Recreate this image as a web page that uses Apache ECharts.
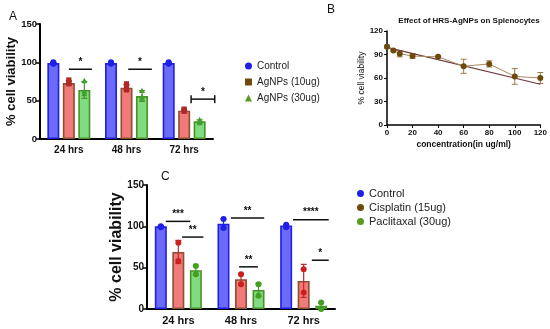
<!DOCTYPE html>
<html><head><meta charset="utf-8">
<script src="https://cdn.jsdelivr.net/npm/echarts@6/dist/echarts.min.js"></script>
<style>html,body{margin:0;padding:0;background:#fff}#c{width:550px;height:329px}</style>
</head><body><div id="c"></div>
<script>
// ---------- data ----------
const categories = ['24 hrs', '48 hrs', '72 hrs'];
// Panel A
const aControl = [99, 99, 99];
const aAg10 = [73, 67, 37];
const aAg30 = [64, 56, 23];
const aErrControl = [1, 1, 1];
const aErrAg10 = [3, 4, 1];
const aErrAg30 = [11, 7, 2];
const aPtsControl = [[0, 98], [0, 99], [0, 100], [1, 98], [1, 99], [1, 100], [2, 98], [2, 99], [2, 100]];
const aPtsAg10 = [[0, 72], [0, 74], [0, 77], [1, 64], [1, 67], [1, 72], [2, 36], [2, 38], [2, 39]];
const aPtsAg30 = [[0, 59], [0, 62], [0, 76], [1, 53], [1, 55], [1, 63], [2, 21], [2, 23], [2, 25]];
const aSig = [[0, 0.0, 0.40, 91, '*', 0], [1, 0.03, 0.44, 91, '*', 0], [2, 0.12, 0.53, 52, '*', 1]];
// Panel B
const bConc = [0, 5, 10, 20, 40, 60, 80, 100, 120];
const bViab = [100, 95, 91, 88, 87, 75, 78, 62, 60];
const bErr = [2, 1, 4, 3, 1, 9, 4, 10, 7];
const bTrendX = [0, 120];
const bTrendY = [99, 52];
// Panel C
const cControl = [100, 103, 101];
const cCis = [69, 36, 34];
const cPac = [47, 23, 4];
const cErrControl = [1, 6, 1];
const cErrCis = [14, 7, 20];
const cErrPac = [6, 8, 4];
const cPtsControl = [[0, 99], [0, 100], [1, 98], [1, 109], [2, 99], [2, 102]];
const cPtsCis = [[0, 58], [0, 80], [1, 30], [1, 42], [2, 20], [2, 48]];
const cPtsPac = [[0, 42], [0, 52], [1, 16], [1, 30], [2, 0], [2, 8]];
const cSig = [[0, -0.2, 0.19, 106, '***'], [0, 0.06, 0.40, 87, '**'], [1, -0.16, 0.37, 110, '**'], [1, -0.03, 0.27, 51, '**'], [2, -0.17, 0.40, 108, '****'], [2, 0.13, 0.40, 59, '*']];

// ---------- styles ----------
const FONT = 'Liberation Sans, Arial, sans-serif';
const BLUE_F = '#6b6bf7', BLUE_B = '#1f1fe6';
const RED_F = '#f27a7a', RED_B = '#8a5030';
const GRN_F = '#80dc80', GRN_B = '#4a9226';
const BROWN = '#6e4a0c';

const chart = echarts.init(document.getElementById('c'), null, {renderer: 'canvas'});

function errSeries(grid, data, errs, offset, color, capW) {
  return {
    type: 'custom', xAxisIndex: grid, yAxisIndex: grid, z: 5,
    data: data.map((v, i) => [i, v, errs[i]]),
    renderItem: function (params, api) {
      const x = api.coord([api.value(0), 0])[0] + offset;
      const hi = api.coord([api.value(0), api.value(1) + api.value(2)])[1];
      const lo = api.coord([api.value(0), api.value(1) - api.value(2)])[1];
      const st = {stroke: color, lineWidth: 1.2};
      return {type: 'group', children: [
        {type: 'line', shape: {x1: x, y1: hi, x2: x, y2: lo}, style: st},
        {type: 'line', shape: {x1: x - capW, y1: hi, x2: x + capW, y2: hi}, style: st},
        {type: 'line', shape: {x1: x - capW, y1: lo, x2: x + capW, y2: lo}, style: st}
      ]};
    }
  };
}
function ptSeries(grid, pts, offset, color, shape, r) {
  return {
    type: 'custom', xAxisIndex: grid, yAxisIndex: grid, z: 6,
    data: pts,
    renderItem: function (params, api) {
      const p = api.coord([api.value(0), api.value(1)]);
      const x = p[0] + offset, y = p[1];
      if (shape === 'rect') return {type: 'rect', shape: {x: x - r, y: y - r, width: 2 * r, height: 2 * r}, style: {fill: color}};
      if (shape === 'tri') return {type: 'polygon', shape: {points: [[x, y - r], [x - r, y + r * 0.8], [x + r, y + r * 0.8]]}, style: {fill: color}};
      return {type: 'circle', shape: {cx: x, cy: y, r: r}, style: {fill: color}};
    }
  };
}
function sigSeries(grid, sig, fs) {
  return {
    type: 'custom', xAxisIndex: grid, yAxisIndex: grid, z: 7,
    data: sig.map(s => [s[0], s[1], s[2], s[3], s[5] || 0]),
    renderItem: function (params, api) {
      const c = api.coord([api.value(0), api.value(3)]);
      const band = api.size([1, 0])[0];
      const x1 = c[0] + api.value(1) * band, x2 = c[0] + api.value(2) * band, y = c[1];
      const st = {stroke: '#111', lineWidth: 1.5};
      const ch = [{type: 'line', shape: {x1: x1, y1: y, x2: x2, y2: y}, style: st}];
      if (api.value(4)) {
        ch.push({type: 'line', shape: {x1: x1, y1: y - 4, x2: x1, y2: y + 4}, style: st});
        ch.push({type: 'line', shape: {x1: x2, y1: y - 4, x2: x2, y2: y + 4}, style: st});
      }
      ch.push({type: 'text', style: {text: sig[params.dataIndex][4], x: (x1 + x2) / 2, y: y - 2, textAlign: 'center', textVerticalAlign: 'bottom', fontSize: fs, fontWeight: 'bold', fill: '#111', fontFamily: FONT}});
      return {type: 'group', children: ch};
    }
  };
}
function barSeries(grid, name, data, fill, border, bw, gap) {
  return {type: 'bar', name: name, xAxisIndex: grid, yAxisIndex: grid, data: data, barWidth: bw, barGap: gap,
    itemStyle: {color: fill, borderColor: border, borderWidth: 1.6}, z: 3};
}

const catAxis = (grid, fs) => ({
  type: 'category', gridIndex: grid, data: categories,
  axisLine: {lineStyle: {color: '#000', width: 2}},
  axisTick: {alignWithLabel: true, length: 4, lineStyle: {color: '#000', width: 1.5}},
  axisLabel: {color: '#111', fontWeight: 'bold', fontSize: fs, fontFamily: FONT, margin: 6}
});
const valAxis = (grid, name, nfs, gap, lfs) => ({
  type: 'value', gridIndex: grid, min: 0, max: 150, interval: 50,
  name: name, nameLocation: 'middle', nameGap: gap, nameMoveOverlap: false,
  nameTextStyle: {color: '#111', fontWeight: 'bold', fontSize: nfs, fontFamily: FONT},
  axisLine: {show: true, lineStyle: {color: '#000', width: 2}},
  axisTick: {show: true, length: 4, lineStyle: {color: '#000', width: 1.5}},
  axisLabel: {color: '#111', fontWeight: 'bold', fontSize: lfs, fontFamily: FONT, margin: 3},
  splitLine: {show: false}
});

const option = {
  animation: false,
  textStyle: {fontFamily: FONT},
  title: [{text: 'Effect of HRS-AgNPs on Splenocytes', left: 464, top: 12, textAlign: 'center',
    textStyle: {fontSize: 8, fontWeight: 'bold', color: '#111', fontFamily: FONT}}],
  graphic: [
    {type: 'text', left: 9, top: 11, style: {text: 'A', fontSize: 12, fill: '#111', fontFamily: FONT}},
    {type: 'text', left: 327, top: 4, style: {text: 'B', fontSize: 12, fill: '#111', fontFamily: FONT}},
    {type: 'text', left: 161, top: 171, style: {text: 'C', fontSize: 12, fill: '#111', fontFamily: FONT}}
  ],
  legend: [
    {orient: 'vertical', left: 240, top: 56, itemWidth: 7, itemHeight: 7, itemGap: 6,
      textStyle: {fontSize: 10, color: '#222', fontFamily: FONT},
      data: [
        {name: 'Control', icon: 'circle', itemStyle: {color: BLUE_B, borderWidth: 0}},
        {name: 'AgNPs (10ug)', icon: 'rect', itemStyle: {color: BROWN, borderWidth: 0}},
        {name: 'AgNPs (30ug)', icon: 'triangle', itemStyle: {color: '#5a9a20', borderWidth: 0}}
      ]},
    {orient: 'vertical', left: 352, top: 183, itemWidth: 7, itemHeight: 7, itemGap: 3,
      textStyle: {fontSize: 11, color: '#222', fontFamily: FONT},
      data: [
        {name: 'Control', icon: 'circle', itemStyle: {color: BLUE_B, borderWidth: 0}},
        {name: 'Cisplatin (15ug)', icon: 'circle', itemStyle: {color: BROWN, borderWidth: 0}},
        {name: 'Paclitaxal (30ug)', icon: 'circle', itemStyle: {color: '#5a9a20', borderWidth: 0}}
      ]}
  ],
  grid: [
    {left: 40, top: 24, width: 173, height: 115},
    {left: 387, top: 31, width: 154, height: 94},
    {left: 147, top: 185, width: 188, height: 124}
  ],
  xAxis: [
    catAxis(0, 10),
    {type: 'value', gridIndex: 1, min: 0, max: 120, interval: 20,
      name: 'concentration(in ug/ml)', nameLocation: 'middle', nameGap: 15,
      nameTextStyle: {color: '#111', fontWeight: 'bold', fontSize: 8.5, fontFamily: FONT},
      axisLine: {lineStyle: {color: '#000', width: 1.5}},
      axisTick: {length: 3, lineStyle: {color: '#000'}},
      axisLabel: {color: '#111', fontWeight: 'bold', fontSize: 8, fontFamily: FONT, margin: 4},
      splitLine: {show: false}},
    catAxis(2, 11)
  ],
  yAxis: [
    valAxis(0, '% cell viability', 13, 22, 9.5),
    {type: 'value', gridIndex: 1, min: 0, max: 120, interval: 30,
      name: '% cell viability', nameLocation: 'middle', nameGap: 19,
      nameTextStyle: {color: '#111', fontSize: 8.5, fontFamily: FONT},
      axisLine: {show: true, lineStyle: {color: '#000', width: 1.5}},
      axisTick: {show: true, length: 3, lineStyle: {color: '#000'}},
      axisLabel: {color: '#111', fontWeight: 'bold', fontSize: 8, fontFamily: FONT, margin: 4},
      splitLine: {show: false}},
    valAxis(2, '% cell viability', 16, 22, 10)
  ],
  series: [
    barSeries(0, 'Control', aControl, BLUE_F, BLUE_B, 12, '29%'),
    barSeries(0, 'AgNPs (10ug)', aAg10, RED_F, RED_B, 12, '29%'),
    barSeries(0, 'AgNPs (30ug)', aAg30, GRN_F, GRN_B, 12, '29%'),
    errSeries(0, aControl, aErrControl, -15.5, BLUE_B, 3),
    errSeries(0, aAg10, aErrAg10, 0, '#a03020', 3),
    errSeries(0, aAg30, aErrAg30, 15.5, GRN_B, 3),
    ptSeries(0, aPtsControl, -15.5, BLUE_B, 'circle', 3),
    ptSeries(0, aPtsAg10, 0, '#b02828', 'rect', 2.6),
    ptSeries(0, aPtsAg30, 15.5, '#40a030', 'tri', 3),
    sigSeries(0, aSig, 10),

    {type: 'line', name: 'trend', xAxisIndex: 1, yAxisIndex: 1, data: bTrendX.map((x, i) => [x, bTrendY[i]]),
      symbol: 'none', lineStyle: {color: '#6a3a40', width: 1.2}, z: 3},
    {type: 'line', name: 'viability', xAxisIndex: 1, yAxisIndex: 1, data: bConc.map((x, i) => [x, bViab[i]]),
      symbol: 'circle', symbolSize: 6, itemStyle: {color: BROWN}, lineStyle: {color: '#a88a60', width: 1}, z: 4},
    {type: 'custom', xAxisIndex: 1, yAxisIndex: 1, z: 3,
      data: bConc.map((x, i) => [x, bViab[i], bErr[i]]),
      renderItem: function (params, api) {
        const x = api.coord([api.value(0), 0])[0];
        const hi = api.coord([0, api.value(1) + api.value(2)])[1];
        const lo = api.coord([0, api.value(1) - api.value(2)])[1];
        const st = {stroke: '#9a7a50', lineWidth: 1};
        return {type: 'group', children: [
          {type: 'line', shape: {x1: x, y1: hi, x2: x, y2: lo}, style: st},
          {type: 'line', shape: {x1: x - 3, y1: hi, x2: x + 3, y2: hi}, style: st},
          {type: 'line', shape: {x1: x - 3, y1: lo, x2: x + 3, y2: lo}, style: st}
        ]};
      }},

    barSeries(2, 'Control', cControl, BLUE_F, BLUE_B, 12, '46%'),
    barSeries(2, 'Cisplatin (15ug)', cCis, RED_F, RED_B, 12, '46%'),
    barSeries(2, 'Paclitaxal (30ug)', cPac, GRN_F, GRN_B, 12, '46%'),
    errSeries(2, cControl, cErrControl, -17.5, BLUE_B, 3),
    errSeries(2, cCis, cErrCis, 0, '#c02828', 3),
    errSeries(2, cPac, cErrPac, 17.5, GRN_B, 3),
    ptSeries(2, cPtsControl, -17.5, BLUE_B, 'circle', 3),
    ptSeries(2, cPtsCis, 0, '#cc2020', 'circle', 3),
    ptSeries(2, cPtsPac, 17.5, '#44a020', 'circle', 3),
    sigSeries(2, cSig, 10)
  ]
};
chart.setOption(option);
</script></body></html>
